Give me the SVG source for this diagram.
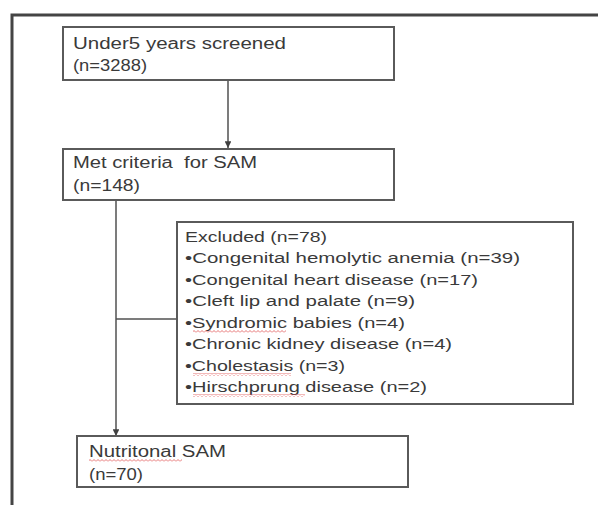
<svg xmlns="http://www.w3.org/2000/svg" width="598" height="505" viewBox="0 0 598 505">
  <style>
    .box { fill: #ffffff; stroke: #5a5a5a; stroke-width: 2; }
    .frame { fill: none; stroke: #444444; stroke-width: 3; }
    .conn { fill: none; stroke: #505050; stroke-width: 1.5; }
    .t { font-family: "Liberation Sans", Arial, sans-serif; fill: #3a3a3a; white-space: pre; }
    .big { font-size: 16px; }
    .small { font-size: 14px; }
  </style>
  <defs>
    <marker id="arrow" viewBox="0 0 10 10" refX="10" refY="5" markerWidth="4.5" markerHeight="4.5" orient="auto" markerUnits="strokeWidth">
      <path d="M0,0 L10,5 L0,10 Z" fill="#404040"/>
    </marker>
    <pattern id="squiggle" patternUnits="userSpaceOnUse" width="4" height="3">
      <path d="M0,2.5 L2,0.5 L4,2.5" fill="none" stroke="#e05050" stroke-width="0.8"/>
    </pattern>
  </defs>
  <rect width="598" height="505" fill="#ffffff"/>
  <path class="frame" d="M12,505 V15 H598"/>

  <g id="connectors">
    <line class="conn" x1="228" y1="80" x2="228" y2="148" marker-end="url(#arrow)"/>
    <line class="conn" x1="116" y1="200" x2="116" y2="436" marker-end="url(#arrow)"/>
    <line class="conn" x1="116" y1="319" x2="186" y2="319"/>
  </g>

  <g id="screened">
    <rect class="box" x="63" y="27" width="331" height="53"/>
    <text class="t big" x="73" y="49" textLength="213" lengthAdjust="spacingAndGlyphs">Under5 years screened</text>
    <text class="t big" x="73" y="71" textLength="74" lengthAdjust="spacingAndGlyphs">(n=3288)</text>
  </g>

  <g id="met-criteria">
    <rect class="box" x="63" y="149" width="331" height="51"/>
    <text class="t big" x="73" y="168" textLength="184" lengthAdjust="spacingAndGlyphs">Met criteria  for SAM</text>
    <text class="t big" x="73" y="191" textLength="67" lengthAdjust="spacingAndGlyphs">(n=148)</text>
  </g>

  <g id="excluded">
    <rect class="box" x="177" y="222" width="396" height="182"/>
    <text class="t small" x="185" y="241.5" textLength="142" lengthAdjust="spacingAndGlyphs">Excluded (n=78)</text>
    <text class="t small" x="185" y="263" textLength="335" lengthAdjust="spacingAndGlyphs">•Congenital hemolytic anemia (n=39)</text>
    <text class="t small" x="185" y="284.5" textLength="293" lengthAdjust="spacingAndGlyphs">•Congenital heart disease (n=17)</text>
    <text class="t small" x="185" y="306" textLength="230" lengthAdjust="spacingAndGlyphs">•Cleft lip and palate (n=9)</text>
    <text class="t small" x="185" y="327.5" textLength="220" lengthAdjust="spacingAndGlyphs">•Syndromic babies (n=4)</text>
    <text class="t small" x="185" y="349" textLength="267" lengthAdjust="spacingAndGlyphs">•Chronic kidney disease (n=4)</text>
    <text class="t small" x="185" y="370.5" textLength="160" lengthAdjust="spacingAndGlyphs">•Cholestasis (n=3)</text>
    <text class="t small" x="185" y="392" textLength="242" lengthAdjust="spacingAndGlyphs">•Hirschprung disease (n=2)</text>
    <rect x="193" y="330" width="93" height="3" fill="url(#squiggle)"/>
    <rect x="193" y="373" width="98" height="3" fill="url(#squiggle)"/>
    <rect x="193" y="394" width="112" height="3" fill="url(#squiggle)"/>
  </g>

  <g id="nutritional">
    <rect class="box" x="77" y="436" width="331" height="51"/>
    <text class="t big" x="89" y="457" textLength="137" lengthAdjust="spacingAndGlyphs">Nutritonal SAM</text>
    <text class="t big" x="89" y="480" textLength="54" lengthAdjust="spacingAndGlyphs">(n=70)</text>
    <rect x="89" y="459" width="93" height="3" fill="url(#squiggle)"/>
  </g>
</svg>
